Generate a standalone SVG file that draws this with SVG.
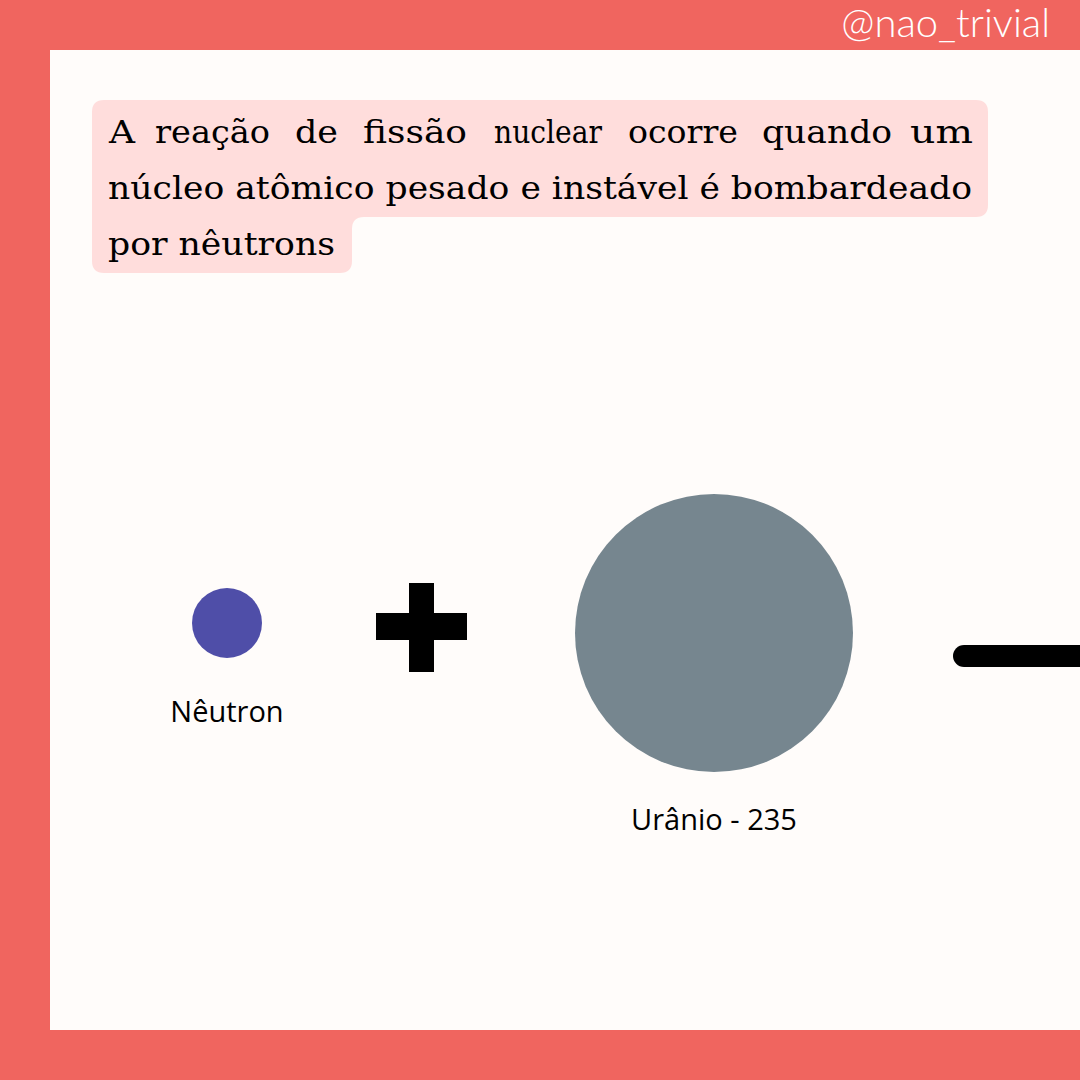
<svg xmlns="http://www.w3.org/2000/svg" width="1080" height="1080" viewBox="0 0 1080 1080">
<style>
.body{font-family:"DejaVu Serif","Liberation Serif",serif;font-size:32px;fill:#000}
.lbl{font-family:"Open Sans","Liberation Sans",sans-serif;font-size:29px;fill:#000;text-anchor:middle}
</style>
<rect width="1080" height="1080" fill="#F0655F"/>
<rect x="50" y="50" width="1030" height="980" fill="#FFFCFA"/>
<text x="1050" y="37" font-family="Lato,'Open Sans',sans-serif" font-weight="300" font-size="40" fill="#FFFFFF" text-anchor="end">@nao_trivial</text>
<g id="caption">
<path d="M104 100 H976 Q988 100 988 112 V205 Q988 217 976 217 H364 Q352 217 352 229 V261 Q352 273 340 273 H104 Q92 273 92 261 V112 Q92 100 104 100 Z" fill="#FFDDDC"/>
<text class="body" y="143"><tspan x="109" textLength="26" lengthAdjust="spacingAndGlyphs">A</tspan><tspan x="155" textLength="115" lengthAdjust="spacingAndGlyphs">reação</tspan><tspan x="295" textLength="43" lengthAdjust="spacingAndGlyphs">de</tspan><tspan x="363" textLength="104" lengthAdjust="spacingAndGlyphs">fissão</tspan><tspan x="494" textLength="108" lengthAdjust="spacingAndGlyphs">nuclear</tspan><tspan x="628" textLength="110" lengthAdjust="spacingAndGlyphs">ocorre</tspan><tspan x="762" textLength="130" lengthAdjust="spacingAndGlyphs">quando</tspan><tspan x="910" textLength="63" lengthAdjust="spacingAndGlyphs">um</tspan></text>
<text class="body" x="108" y="199" textLength="864" lengthAdjust="spacingAndGlyphs">núcleo atômico pesado e instável é bombardeado</text>
<text class="body" x="108" y="255" textLength="227" lengthAdjust="spacingAndGlyphs">por nêutrons</text>
</g>
<g id="neutron">
<circle cx="227" cy="623" r="35" fill="#4F4EA8"/>
<text class="lbl" x="227" y="722">Nêutron</text>
</g>
<g id="plus">
<rect x="409" y="583" width="25" height="89" fill="#000"/>
<rect x="376" y="613" width="91" height="27" fill="#000"/>
</g>
<g id="uranium">
<circle cx="714" cy="633" r="139" fill="#76868F"/>
<text class="lbl" x="714" y="830">Urânio - 235</text>
</g>
<g id="connectors">
<line x1="964" y1="656" x2="1090" y2="656" stroke="#000" stroke-width="22" stroke-linecap="round"/>
</g>
</svg>
